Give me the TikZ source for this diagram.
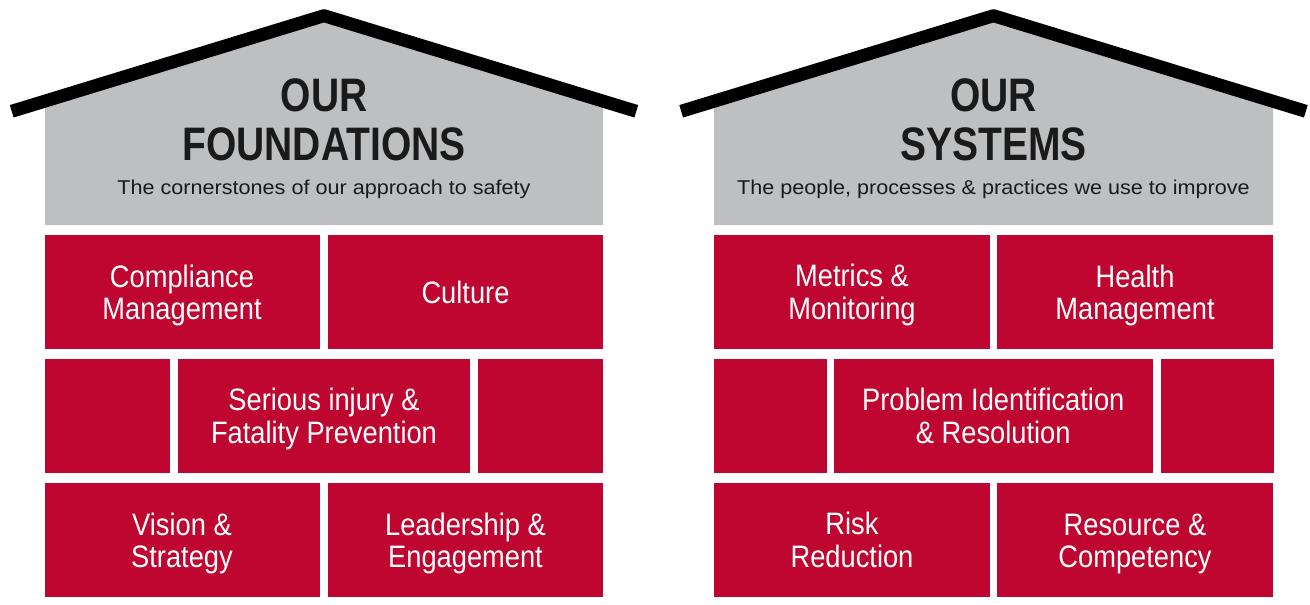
\documentclass[tikz,border=0pt]{standalone}
\usepackage{fontspec}
\setmainfont{Liberation Sans}
\newfontfamily\brickfont{Liberation Sans}[FakeStretch=0.88]
\newfontfamily\titlefont{Liberation Sans}[FakeStretch=0.83]
\newfontfamily\subfont{Liberation Sans}[FakeStretch=1.08]
\definecolor{brickred}{HTML}{BE0630}
\definecolor{wallgray}{HTML}{BEBFC1}
\definecolor{inkblack}{HTML}{1A1A1A}
\tikzset{
  brick/.style={fill=brickred, draw=none, inner sep=0pt, minimum height=114pt},
  bricktext/.style={inner sep=0pt, align=center, text=white, yshift=-4.6pt,
    font=\brickfont\fontsize{31}{32}\selectfont},
  wall/.style={fill=wallgray, draw=none},
  roof/.style={draw=black, line width=13pt, line join=round, line cap=butt},
  titletext/.style={inner sep=0pt, align=center, text=inkblack,
    font=\titlefont\bfseries\fontsize{47}{49}\selectfont},
  subtext/.style={inner sep=0pt, anchor=base, text=inkblack,
    font=\subfont\fontsize{20}{24}\selectfont}
}
\begin{document}
\begin{tikzpicture}[x=1pt,y=-1pt]
\useasboundingbox (0,0) rectangle (1310,605);

% ---------- left house ----------
\fill[wall] (45,225) -- (45,100) -- (324,15.7) -- (603,100) -- (603,225) -- cycle;
\coordinate (lroofA) at (11.7,111.3);
\coordinate (lroofP) at (324,15.7);
\coordinate (lroofB) at (636.3,111.3);
\draw[roof] (lroofA) -- (lroofP) -- (lroofB);
\node[titletext] (ltitle) at (324,120) {OUR\\FOUNDATIONS};
\node[subtext] (lsub) at (324,194.3) {The cornerstones of our approach to safety};

\node[brick, minimum width=275pt] (l11) at (182,292) {};
\node[brick, minimum width=275pt] (l12) at (465.5,292) {};
\node[brick, minimum width=125pt] (l21) at (107.5,416) {};
\node[brick, minimum width=292pt] (l22) at (324,416) {};
\node[brick, minimum width=125pt] (l23) at (540.5,416) {};
\node[brick, minimum width=275pt] (l31) at (182,540) {};
\node[brick, minimum width=275pt] (l32) at (465.5,540) {};

\node[bricktext] (tl11) at (l11.center) {\strut Compliance\\\strut Management};
\node[bricktext] (tl12) at (l12.center) {\strut Culture};
\node[bricktext] (tl22) at (l22.center) {\strut Serious injury \&\\\strut Fatality Prevention};
\node[bricktext] (tl31) at (l31.center) {\strut Vision \&\\\strut Strategy};
\node[bricktext] (tl32) at (l32.center) {\strut Leadership \&\\\strut Engagement};

% ---------- right house ----------
\fill[wall] (714,225) -- (714,100) -- (993.5,15.7) -- (1273,100) -- (1273,225) -- cycle;
\coordinate (rroofA) at (681.2,111.3);
\coordinate (rroofP) at (993.5,15.7);
\coordinate (rroofB) at (1305.8,111.3);
\draw[roof] (rroofA) -- (rroofP) -- (rroofB);
\node[titletext] (rtitle) at (993.5,120) {OUR\\SYSTEMS};
\node[subtext] (rsub) at (993.5,194.3) {The people, processes \& practices we use to improve};

\node[brick, minimum width=276pt] (r11) at (852,292) {};
\node[brick, minimum width=276pt] (r12) at (1135,292) {};
\node[brick, minimum width=113pt] (r21) at (770.5,416) {};
\node[brick, minimum width=318.5pt] (r22) at (993.25,416) {};
\node[brick, minimum width=112.5pt] (r23) at (1217.25,416) {};
\node[brick, minimum width=276pt] (r31) at (852,540) {};
\node[brick, minimum width=276pt] (r32) at (1135,540) {};

\node[bricktext] (tr11) at (r11.center) {\strut Metrics \&\\\strut Monitoring};
\node[bricktext] (tr12) at (r12.center) {\strut Health\\\strut Management};
\node[bricktext] (tr22) at (r22.center) {\strut Problem Identification\\\strut \& Resolution};
\node[bricktext] (tr31) at (r31.center) {\strut Risk\\\strut Reduction};
\node[bricktext] (tr32) at (r32.center) {\strut Resource \&\\\strut Competency};
\end{tikzpicture}
\end{document}
